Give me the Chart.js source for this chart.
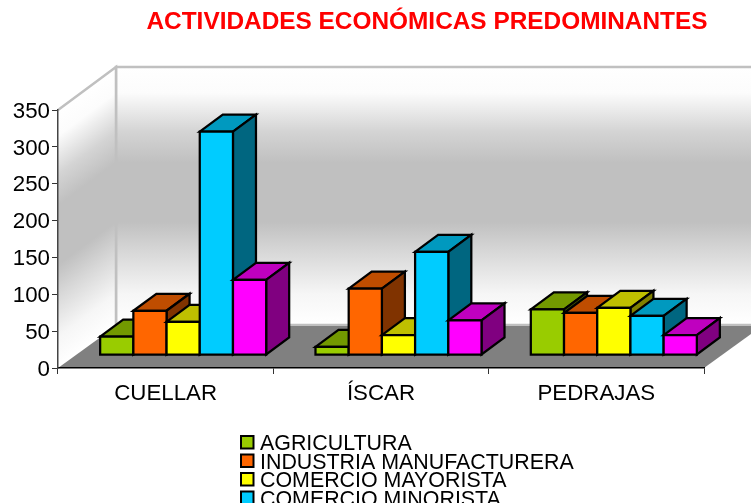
<!DOCTYPE html>
<html lang="es">
<head>
<meta charset="UTF-8">
<title>Actividades económicas predominantes</title>
<script src="https://cdn.jsdelivr.net/npm/chart.js"></script>
<style>
    html, body { margin: 0; padding: 0; background: #fff; overflow: hidden; }
    canvas { display: block; }
</style>
</head>
<body>
<canvas id="chart" width="751" height="503"></canvas>
<script>
const chartTitle = 'ACTIVIDADES ECONÓMICAS PREDOMINANTES';
const towns = ['CUELLAR', 'ÍSCAR', 'PEDRAJAS'];
// the last legend row is cut off in the picture, its label is a guess
const seriesNames = ['AGRICULTURA', 'INDUSTRIA MANUFACTURERA', 'COMERCIO MAYORISTA', 'COMERCIO MINORISTA', 'SERVICIOS'];
const seriesColors = ['#99CC00', '#FF6600', '#FFFF00', '#00CCFF', '#FF00FF'];

const agricultura = [25, 11, 62];
const industria = [60, 90, 57];
const mayorista = [45, 27, 64];
const minorista = [303, 140, 53];
const servicios = [102, 47, 27];
const seriesValues = [agricultura, industria, mayorista, minorista, servicios];

const FONT = '"Liberation Sans", Arial, sans-serif';

// 3D look: depth of the whole box, and where the bars sit inside it
const boxDepth = { x: 58, y: 43 };
const barShift = { x: 17.5, y: 13 };
const barDepth = { x: 23, y: 17 };

const wallStops = [
    [0, '#ffffff'], [0.1, '#fcfcfc'], [0.25, '#d4d4d4'], [0.37, '#c0c0c0'],
    [0.6, '#c0c0c0'], [0.72, '#d8d8d8'], [0.88, '#f6f6f6'], [1, '#ffffff']
];

function shade(hex, f) {
    const n = parseInt(hex.slice(1), 16);
    const r = Math.round((n >> 16 & 255) * f);
    const g = Math.round((n >> 8 & 255) * f);
    const b = Math.round((n & 255) * f);
    return `rgb(${r},${g},${b})`;
}

function poly(ctx, pts, fill, stroke, lw) {
    ctx.beginPath();
    pts.forEach((p, i) => i ? ctx.lineTo(p[0], p[1]) : ctx.moveTo(p[0], p[1]));
    ctx.closePath();
    if (fill) { ctx.fillStyle = fill; ctx.fill(); }
    if (stroke) { ctx.strokeStyle = stroke; ctx.lineWidth = lw; ctx.stroke(); }
}

// walls and floor, behind the axes
const boxPlugin = {
    id: 'box',
    beforeDraw(chart) {
        const { ctx, chartArea: a } = chart;
        const dx = boxDepth.x, dy = boxDepth.y;
        const backR = a.right + dx;

        const back = ctx.createLinearGradient(0, a.top - dy, 0, a.bottom - dy);
        wallStops.forEach(s => back.addColorStop(s[0], s[1]));
        poly(ctx, [[a.left + dx, a.top - dy], [backR, a.top - dy], [backR, a.bottom - dy], [a.left + dx, a.bottom - dy]],
            back, '#c0c0c0', 2.5);

        // side wall gradient runs square to the slanted edges
        const len = Math.hypot(dx, dy);
        const nx = dy / len, ny = dx / len;
        const h = (a.bottom - a.top) * ny;
        const side = ctx.createLinearGradient(a.left, a.top, a.left + nx * h, a.top + ny * h);
        wallStops.forEach(s => side.addColorStop(s[0], s[1]));
        poly(ctx, [[a.left, a.top], [a.left + dx, a.top - dy], [a.left + dx, a.bottom - dy], [a.left, a.bottom]], side);
        ctx.beginPath();
        ctx.moveTo(a.left, a.top);
        ctx.lineTo(a.left + dx, a.top - dy);
        ctx.lineTo(a.left + dx, a.bottom - dy);
        ctx.strokeStyle = '#c0c0c0';
        ctx.lineWidth = 2.5;
        ctx.stroke();

        poly(ctx, [[a.left, a.bottom], [a.left + dx, a.bottom - dy + 1], [backR, a.bottom - dy + 1], [a.right, a.bottom]], '#808080');
    }
};

// bars are painted left to right so later ones cover the earlier sides
const barsPlugin = {
    id: 'bars3d',
    beforeDatasetsDraw(chart) {
        const ctx = chart.ctx;
        const dx = barDepth.x, dy = barDepth.y;
        ctx.save();
        ctx.lineJoin = 'miter';
        towns.forEach((_, i) => {
            chart.data.datasets.forEach((ds, d) => {
                const bar = chart.getDatasetMeta(d).data[i];
                const { x, y, base, width } = bar.getProps(['x', 'y', 'base', 'width']);
                const l = x - width / 2 + barShift.x;
                const r = x + width / 2 + barShift.x;
                const t = y - barShift.y;
                const b = base - barShift.y;
                const c = ds.backgroundColor;
                poly(ctx, [[l, t], [l + dx, t - dy], [r + dx, t - dy], [r, t]], shade(c, 0.75), '#000', 2.25);
                poly(ctx, [[r, t], [r + dx, t - dy], [r + dx, b - dy], [r, b]], shade(c, 0.5), '#000', 2.25);
                poly(ctx, [[l, t], [r, t], [r, b], [l, b]], c, '#000', 2.25);
            });
        });
        ctx.restore();
        return false;
    }
};

// title sits off centre and the legend rows overlap, so both are drawn here
const textPlugin = {
    id: 'texts',
    afterDraw(chart) {
        const ctx = chart.ctx;
        ctx.save();
        ctx.fillStyle = '#ff0000';
        ctx.font = 'bold 24.4px ' + FONT;
        ctx.textAlign = 'center';
        ctx.textBaseline = 'middle';
        ctx.fillText(chartTitle, 427, 22);

        ctx.font = '21.4px ' + FONT;
        ctx.textAlign = 'left';
        seriesNames.forEach((name, i) => {
            const rowY = 442.5 + i * 18.5;
            ctx.fillStyle = seriesColors[i];
            ctx.strokeStyle = '#000';
            ctx.lineWidth = 2;
            ctx.fillRect(241, rowY - 6.5, 12.5, 12.5);
            ctx.strokeRect(241, rowY - 6.5, 12.5, 12.5);
            ctx.fillStyle = '#000';
            ctx.fillText(name, 260, rowY + 2);
        });
        ctx.restore();
    }
};

new Chart(document.getElementById('chart'), {
    type: 'bar',
    data: {
        labels: towns,
        datasets: seriesNames.map((name, i) => ({
            label: name,
            data: seriesValues[i],
            backgroundColor: seriesColors[i]
        }))
    },
    options: {
        responsive: false,
        animation: false,
        datasets: { bar: { categoryPercentage: 0.771, barPercentage: 1 } },
        layout: { padding: { left: 0, top: 110, right: 47, bottom: 0 } },
        plugins: {
            legend: { display: false },
            title: { display: false },
            tooltip: { enabled: false }
        },
        scales: {
            x: {
                afterFit: (s) => { s.height = 135; },
                border: { color: '#000', width: 1.5 },
                grid: { drawOnChartArea: false, color: '#333', tickLength: 6, offset: true },
                ticks: { color: '#000', font: { family: FONT, size: 22.3 }, padding: 6.5, maxRotation: 0 }
            },
            y: {
                min: 0,
                max: 350,
                afterFit: (s) => { s.width = 58; },
                border: { color: '#444', width: 1.5 },
                grid: { drawOnChartArea: false, color: '#333', tickLength: 6 },
                ticks: { stepSize: 50, color: '#000', font: { family: FONT, size: 22.3 }, padding: 2, labelOffset: 1.5 }
            }
        }
    },
    plugins: [boxPlugin, barsPlugin, textPlugin]
});
</script>
</body>
</html>
